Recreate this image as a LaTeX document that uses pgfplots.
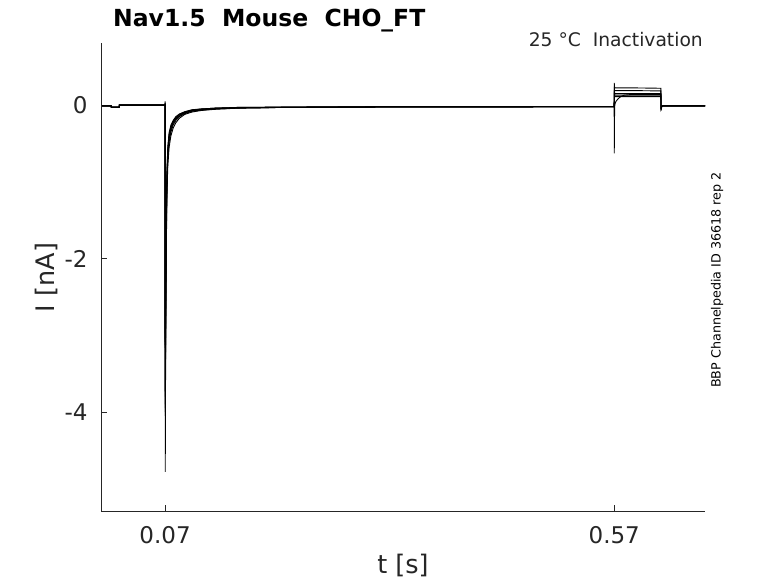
\documentclass[border=0pt]{standalone}
\usepackage{fontspec}
\setmainfont{DejaVu Sans}
\usepackage{pgfplots}
\usepackage{pgfplotstable}
\pgfplotsset{compat=1.18}
\definecolor{axgray}{RGB}{38,38,38}

\pgfplotstableread{
t        y1     y2     y3     y4     y5     y6
0        -0.01  -0.01  -0.01  -0.01  -0.01  -0.01
0.0100   -0.01  -0.01  -0.01  -0.01  -0.01  -0.01
0.0101   -0.03  -0.03  -0.025 -0.025 -0.025 -0.03
0.0190   -0.03  -0.03  -0.025 -0.025 -0.025 -0.03
0.0191   0.0    0.0    0.0    0.005  0.0    0.0
0.0699   0.0    0.0    0.0    0.005  0.0    0.0
0.0700   0.05   0.03   0.02   0.02   0.01   0.01
0.0702   -4.78  -4.05  -4.0   -3.95  -3.9   -3.8
0.0706   -3.4   -3.2   -3.1   -3.0   -2.9   -2.7
0.0712   -2.1   -2.0   -1.9   -1.8   -1.7   -1.6
0.0720   -1.25  -1.15  -1.05  -1.0   -0.95  -0.9
0.0730   -0.8   -0.72  -0.66  -0.62  -0.58  -0.55
0.0745   -0.55  -0.48  -0.44  -0.41  -0.38  -0.36
0.0765   -0.4   -0.35  -0.32  -0.3   -0.28  -0.26
0.0790   -0.3   -0.26  -0.24  -0.22  -0.21  -0.2
0.0820   -0.23  -0.2   -0.18  -0.17  -0.16  -0.15
0.0860   -0.17  -0.15  -0.14  -0.13  -0.12  -0.115
0.0920   -0.12  -0.11  -0.1   -0.095 -0.09  -0.085
0.1000   -0.09  -0.08  -0.075 -0.07  -0.065 -0.06
0.1100   -0.07  -0.065 -0.06  -0.055 -0.05  -0.05
0.1250   -0.055 -0.05  -0.045 -0.04  -0.04  -0.04
0.1500   -0.04  -0.04  -0.035 -0.035 -0.03  -0.03
0.2000   -0.03  -0.03  -0.03  -0.03  -0.025 -0.025
0.3000   -0.025 -0.025 -0.025 -0.025 -0.02  -0.02
0.5699   -0.02  -0.02  -0.02  -0.02  -0.02  -0.02
0.5700   0.29   0.24   0.2    0.18   0.16   -0.63
0.5702   0.24   0.2    0.17   0.15   0.13   -0.2
0.5706   0.23   0.19   0.155  0.135  0.115  0.0
0.5712   0.225  0.19   0.15   0.13   0.11   0.03
0.5720   0.225  0.19   0.15   0.13   0.11   0.05
0.5740   0.225  0.19   0.15   0.13   0.11   0.08
0.5770   0.225  0.19   0.15   0.13   0.11   0.11
0.5810   0.225  0.19   0.15   0.13   0.11   0.13
0.5900   0.225  0.19   0.15   0.13   0.11   0.14
0.6219   0.22   0.185  0.15   0.13   0.11   0.14
0.6221   -0.07  -0.06  -0.05  -0.05  -0.04  -0.05
0.6225   -0.03  -0.03  -0.02  -0.02  -0.02  -0.02
0.6240   -0.01  -0.01  -0.01  -0.01  -0.01  -0.01
0.6710   -0.01  -0.01  -0.01  -0.01  -0.01  -0.01
}\traces

\begin{document}
\begin{tikzpicture}
\useasboundingbox (0,0) rectangle (778pt,583pt);
\begin{axis}[
  at={(101pt,72pt)}, anchor=south west,
  scale only axis, width=604pt, height=468pt,
  xmin=-0.0013, xmax=0.671, ymin=-5.29, ymax=0.81,
  axis lines=left,
  axis line style={-, axgray, line width=0.6pt},
  tick align=inside, major tick length=6pt,
  tick style={axgray, line width=0.6pt},
  xtick={0.07,0.57}, xticklabels={0.07,0.57},
  ytick={-4,-2,0}, yticklabels={-4,-2,0},
  ticklabel style={font=\fontsize{23}{27}\selectfont, text=axgray},
  xticklabel style={yshift=-12pt},
  yticklabel style={xshift=-10pt},
]
\addplot[black, line width=0.9pt] table[x=t,y=y1]{\traces};
\addplot[black, line width=0.9pt] table[x=t,y=y2]{\traces};
\addplot[black, line width=0.9pt] table[x=t,y=y3]{\traces};
\addplot[black, line width=0.9pt] table[x=t,y=y4]{\traces};
\addplot[black, line width=0.9pt] table[x=t,y=y5]{\traces};
\addplot[black, line width=0.9pt] table[x=t,y=y6]{\traces};
\end{axis}
\node[anchor=base west, inner sep=0pt, font=\fontsize{23.5}{28}\selectfont\bfseries] at (113pt,556pt) {Nav1.5\ \ Mouse\ \ CHO\_FT};
\node[anchor=base east, inner sep=0pt, font=\fontsize{18.7}{22}\selectfont, text=axgray] at (703pt,536pt) {25 °C\ \ Inactivation};
\node[font=\fontsize{25.5}{30}\selectfont, text=axgray] at (403pt,17.5pt) {t [s]};
\node[rotate=90, font=\fontsize{25.5}{30}\selectfont, text=axgray] at (46.5pt,305.5pt) {I [nA]};
\node[rotate=90, font=\fontsize{12.7}{15}\selectfont] at (717pt,303pt) {BBP Channelpedia ID 36618 rep 2};
\end{tikzpicture}
\end{document}
